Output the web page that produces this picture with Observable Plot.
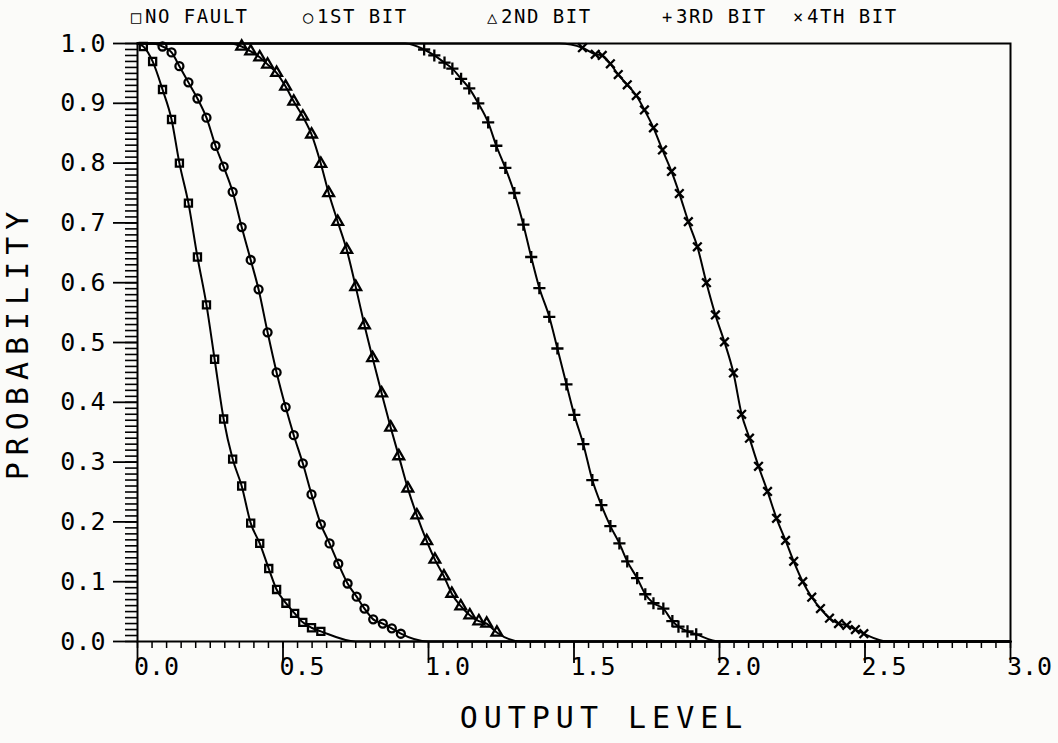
<!DOCTYPE html>
<html>
<head>
<meta charset="utf-8">
<script src="https://cdn.jsdelivr.net/npm/d3@7"></script>
<script src="https://cdn.jsdelivr.net/npm/@observablehq/plot@0.6"></script>
<style>
  body { margin: 0; background: #fbfbf9; }
  #wrap { position: relative; width: 1058px; height: 743px; }
  #legend { position: relative; height: 30px; font-family: "DejaVu Sans Mono", monospace; font-size: 19px; color: #000; }
  #legend .item { position: absolute; top: 5px; white-space: nowrap; letter-spacing: 1.5px; }
  #legend .sym { display: inline-block; width: 13px; font-size: 17px; margin-right: 1px; }
  svg { display: block; }
</style>
</head>
<body>
<div id="wrap">
  <div id="legend"></div>
  <div id="chart"></div>
</div>
<script>
// ---- data ----
const seriesNames = ["NO FAULT", "1ST BIT", "2ND BIT", "3RD BIT", "4TH BIT"];
const legendGlyphs = ["□", "○", "△", "+", "×"];
const xTickLabels = [0.0, 0.5, 1.0, 1.5, 2.0, 2.5, 3.0];
const yTickLabels = [0.0, 0.1, 0.2, 0.3, 0.4, 0.5, 0.6, 0.7, 0.8, 0.9, 1.0];

const noFaultX = [0, 0.02, 0.052, 0.086, 0.117, 0.144, 0.175, 0.206, 0.237, 0.265, 0.296, 0.327, 0.358, 0.389, 0.42, 0.451, 0.478, 0.51, 0.54, 0.568, 0.598, 0.63, 0.75, 3.0];
const noFaultY = [1, 0.995, 0.97, 0.923, 0.873, 0.80, 0.733, 0.643, 0.563, 0.472, 0.372, 0.305, 0.26, 0.198, 0.164, 0.122, 0.087, 0.064, 0.047, 0.032, 0.023, 0.017, 0, 0];

const bit1X = [0, 0.05, 0.086, 0.117, 0.144, 0.175, 0.206, 0.237, 0.268, 0.296, 0.327, 0.358, 0.389, 0.416, 0.447, 0.478, 0.509, 0.537, 0.568, 0.598, 0.63, 0.66, 0.69, 0.722, 0.753, 0.78, 0.81, 0.843, 0.874, 0.905, 1.0, 3.0];
const bit1Y = [1, 1, 0.995, 0.985, 0.962, 0.935, 0.908, 0.876, 0.829, 0.794, 0.752, 0.693, 0.638, 0.589, 0.517, 0.45, 0.392, 0.345, 0.298, 0.246, 0.196, 0.164, 0.13, 0.097, 0.075, 0.055, 0.037, 0.03, 0.022, 0.013, 0, 0];

const bit2X = [0, 0.32, 0.358, 0.389, 0.42, 0.447, 0.478, 0.509, 0.537, 0.568, 0.598, 0.63, 0.657, 0.688, 0.719, 0.75, 0.78, 0.808, 0.839, 0.87, 0.898, 0.929, 0.96, 0.994, 1.022, 1.053, 1.08, 1.111, 1.142, 1.173, 1.2, 1.235, 1.32, 3.0];
const bit2Y = [1, 1, 0.995, 0.987, 0.977, 0.965, 0.951, 0.928, 0.903, 0.878, 0.848, 0.799, 0.75, 0.702, 0.655, 0.593, 0.529, 0.474, 0.415, 0.358, 0.31, 0.256, 0.211, 0.168, 0.137, 0.109, 0.08, 0.059, 0.044, 0.034, 0.03, 0.015, 0, 0];

const bit3X = [0, 0.92, 0.985, 1.02, 1.055, 1.082, 1.112, 1.14, 1.171, 1.205, 1.233, 1.264, 1.295, 1.326, 1.353, 1.381, 1.415, 1.443, 1.474, 1.501, 1.532, 1.563, 1.594, 1.625, 1.656, 1.683, 1.717, 1.745, 1.773, 1.807, 1.838, 1.859, 1.89, 1.92, 2.0, 3.0];
const bit3Y = [1, 1, 0.99, 0.98, 0.968, 0.958, 0.941, 0.925, 0.9, 0.868, 0.829, 0.792, 0.75, 0.697, 0.643, 0.591, 0.543, 0.49, 0.43, 0.379, 0.33, 0.27, 0.228, 0.193, 0.164, 0.134, 0.106, 0.079, 0.064, 0.055, 0.034, 0.025, 0.017, 0.012, 0, 0];

const bit4X = [0, 1.45, 1.529, 1.573, 1.597, 1.625, 1.652, 1.683, 1.714, 1.742, 1.773, 1.804, 1.835, 1.862, 1.893, 1.924, 1.955, 1.986, 2.017, 2.048, 2.076, 2.103, 2.134, 2.165, 2.196, 2.227, 2.255, 2.286, 2.317, 2.347, 2.378, 2.409, 2.437, 2.467, 2.496, 2.58, 3.0];
const bit4Y = [1, 1, 0.993, 0.982, 0.98, 0.966, 0.948, 0.931, 0.913, 0.889, 0.859, 0.822, 0.786, 0.749, 0.702, 0.66, 0.6, 0.546, 0.501, 0.449, 0.38, 0.34, 0.293, 0.251, 0.206, 0.169, 0.134, 0.1, 0.074, 0.055, 0.039, 0.03, 0.027, 0.02, 0.013, 0, 0];

// ---- build table ----
const seriesX = [noFaultX, bit1X, bit2X, bit3X, bit4X];
const seriesY = [noFaultY, bit1Y, bit2Y, bit3Y, bit4Y];
const rows = [];
seriesNames.forEach((name, i) => {
  seriesX[i].forEach((x, j) => rows.push({series: name, x, y: seriesY[i][j]}));
});
const markerRows = rows.filter(d => d.y > 0 && d.y < 1);

// ---- legend (HTML, above the SVG) ----
const legendLeft = [131, 303, 487, 662, 793];
const legend = document.getElementById("legend");
seriesNames.forEach((name, i) => {
  const el = document.createElement("div");
  el.className = "item";
  el.style.left = legendLeft[i] + "px";
  el.innerHTML = `<span class="sym">${legendGlyphs[i]}</span>${name}`;
  legend.appendChild(el);
});

const fmt = d3.format(".1f");
const chart = Plot.plot({
  width: 1058,
  height: 713,
  marginTop: 13,
  marginBottom: 102,
  marginLeft: 137,
  marginRight: 48,
  style: { background: "transparent", fontFamily: "DejaVu Sans Mono, monospace", color: "#000" },
  x: { domain: [0, 3] },
  y: { domain: [0, 1] },
  symbol: { domain: seriesNames, range: ["square", "circle", "triangle", "plus", "times"] },
  marks: [
    // y axis: minor and major ticks
    Plot.axisY({ ticks: d3.ticks(0, 1, 100), tickSize: 12, strokeWidth: 1.6, tickFormat: () => "", label: null }),
    Plot.axisY({ ticks: yTickLabels, tickSize: 24, strokeWidth: 1.8, tickPadding: 8, tickFormat: fmt, fontSize: 25, label: null }),
    // x axis: minor and major ticks, labels
    Plot.axisX({ ticks: d3.ticks(0, 3, 60), tickSize: 7, strokeWidth: 1.5, tickFormat: () => "", label: null }),
    Plot.axisX({ ticks: xTickLabels, tickSize: 22, strokeWidth: 1.8, tickFormat: () => "", label: null }),
    Plot.axisX({ ticks: xTickLabels, tickSize: 0, tickPadding: 16, dx: 19, tickFormat: fmt, fontSize: 25, label: null }),
    Plot.frame({ stroke: "#000", strokeWidth: 2 }),
    Plot.line(rows, { x: "x", y: "y", z: "series", curve: "monotone-x", stroke: "#000", strokeWidth: 2 }),
    Plot.dot(markerRows, { x: "x", y: "y", symbol: "series", r: 4, stroke: "#000", strokeWidth: 2.3, fill: "none" }),
    Plot.text(["OUTPUT LEVEL"], { frameAnchor: "bottom", dy: 86, dx: 30, fontSize: 30, fill: "#000" }),
    Plot.text(["PROBABILITY"], { frameAnchor: "left", textAnchor: "middle", dx: -119, rotate: -90, fontSize: 30, fill: "#000" })
  ]
});
document.getElementById("chart").appendChild(chart);
d3.select(chart).selectAll("text").filter(function() { return this.textContent === "OUTPUT LEVEL"; }).attr("letter-spacing", "6px");
d3.select(chart).selectAll("text").filter(function() { return this.textContent === "PROBABILITY"; }).attr("letter-spacing", "7px");
</script>
</body>
</html>
